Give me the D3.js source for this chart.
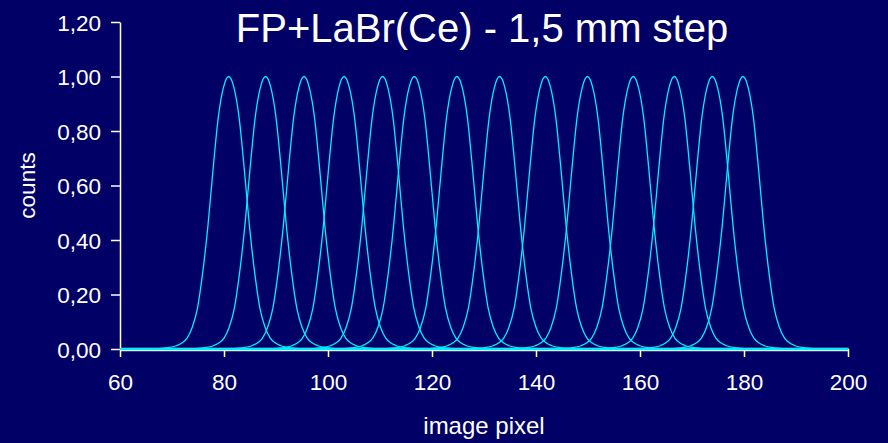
<!DOCTYPE html>
<html>
<head>
<meta charset="utf-8">
<script src="https://cdn.jsdelivr.net/npm/d3@7"></script>
<style>
  body { margin: 0; background: #000066; }
  svg { display: block; font-family: "Liberation Sans", Arial, sans-serif; }
</style>
</head>
<body>
<script>
(function () {
    'use strict';

    const width = 888;
    const height = 443;
    const margin = {top: 22, left: 120, right: 40, bottom: 94};

    // peak positions (image pixel)
    const peakCenters = [80.9, 88.0, 95.4, 103.1, 110.5, 116.6, 124.8,
                         133.0, 141.8, 149.9, 158.7, 166.6, 173.9, 179.8];
    // measured peak shape: offset from peak (image pixel) -> normalised counts
    const profileOffsets = [-15, -12, -10, -9, -8, -7, -6, -5, -4, -3, -2, -1, 0,
                            1, 2, 3, 4, 5, 6, 7, 8, 9, 10, 12, 15];
    const profileValues = [0.00, 0.004, 0.012, 0.022, 0.04, 0.08, 0.15, 0.28, 0.45, 0.66, 0.85, 0.96, 1.00,
                           0.96, 0.85, 0.66, 0.45, 0.28, 0.15, 0.08, 0.04, 0.022, 0.012, 0.004, 0.00];
    const xRange = [60, 200];
    const xTicks = [60, 80, 100, 120, 140, 160, 180, 200];
    const yTicks = [0, 0.2, 0.4, 0.6, 0.8, 1.0, 1.2];

    const innerW = width - margin.left - margin.right;
    const innerH = height - margin.top - margin.bottom;

    const svg = d3.select('body')
        .append('svg')
        .attr('width', width)
        .attr('height', height);

    svg.append('rect')
        .attr('width', width)
        .attr('height', height)
        .attr('fill', '#000066');

    const g = svg.append('g')
        .attr('transform', `translate(${margin.left},${margin.top})`);

    const x = d3.scaleLinear().domain(xRange).range([0, innerW]);
    const y = d3.scaleLinear().domain([0, 1.2]).range([innerH, 0]);

    const fmt = d => d3.format('.2f')(d).replace('.', ',');

    const xAxis = g.append('g')
        .attr('transform', `translate(0,${innerH})`)
        .call(d3.axisBottom(x).tickValues(xTicks).tickSize(8).tickSizeOuter(0).tickPadding(17));

    const yAxis = g.append('g')
        .call(d3.axisLeft(y).tickValues(yTicks).tickFormat(fmt).tickSize(9).tickSizeOuter(0).tickPadding(10));

    [xAxis, yAxis].forEach(a => {
        a.selectAll('path, line').attr('stroke', '#ffffff').attr('stroke-width', 1.5);
        a.selectAll('text')
            .attr('fill', '#ffffff')
            .style('font-size', '22.5px');
    });
    yAxis.selectAll('text').attr('dy', '0.36em');
    xAxis.select('.domain').attr('stroke', '#d8f4ff').attr('stroke-width', 3.5);

    // each series: the measured shape placed at its peak, padded with zeros to the axis ends
    const series = peakCenters.map(c => {
        const pts = profileOffsets.map((o, i) => [c + o, profileValues[i]])
            .filter(p => p[0] >= xRange[0] && p[0] <= xRange[1]);
        return [[xRange[0], 0], ...pts, [xRange[1], 0]];
    });

    const line = d3.line()
        .x(d => x(d[0]))
        .y(d => y(d[1]))
        .curve(d3.curveMonotoneX);

    g.selectAll('.peak')
        .data(series)
        .enter().append('path')
        .attr('class', 'peak')
        .attr('d', line)
        .attr('fill', 'none')
        .attr('stroke', '#00eeff')
        .attr('stroke-width', 1.3);

    svg.append('text')
        .attr('x', 482)
        .attr('y', 42)
        .attr('text-anchor', 'middle')
        .attr('fill', '#ffffff')
        .style('font-size', '40px')
        .text('FP+LaBr(Ce) - 1,5 mm step');

    svg.append('text')
        .attr('x', margin.left + innerW / 2)
        .attr('y', 434)
        .attr('text-anchor', 'middle')
        .attr('fill', '#ffffff')
        .style('font-size', '24px')
        .text('image pixel');

    svg.append('text')
        .attr('transform', `translate(35,${margin.top + innerH / 2}) rotate(-90)`)
        .attr('text-anchor', 'middle')
        .attr('fill', '#ffffff')
        .style('font-size', '22.5px')
        .text('counts');
}());
</script>
</body>
</html>
